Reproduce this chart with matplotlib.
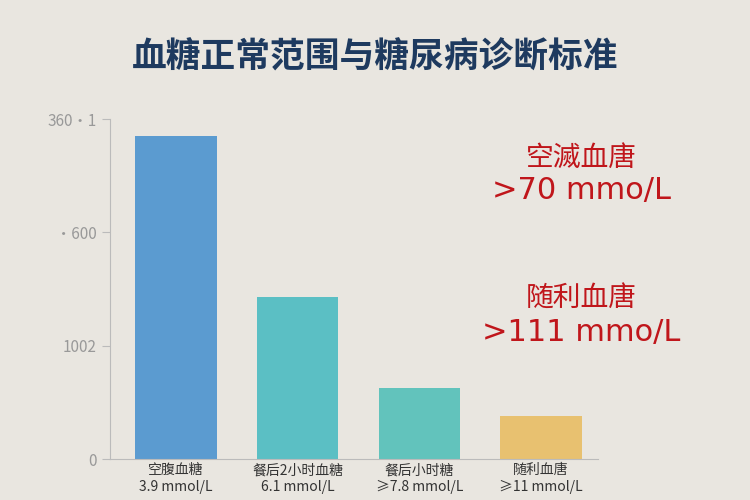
import matplotlib.pyplot as plt

plt.rcParams['font.family'] = ['Noto Sans CJK SC', 'DejaVu Sans']

categories = ['空腹血糖\n3.9 mmol/L', '餐后2小时血糖\n6.1 mmol/L', '餐后小时糖\n≥7.8 mmol/L', '随利血唐\n≥11 mmol/L']
values = [2850, 1430, 630, 380]
colors = ['#5b9bd0', '#5bbfc4', '#62c3bc', '#e8c170']
yticks = [0, 1000, 2000, 3000]
ytick_labels = ['0', '1002', '·600', '360·1']

fig = plt.figure(figsize=(7.5, 5), dpi=100, facecolor='#e9e6e0')
ax = fig.add_axes([0.1467, 0.082, 0.651, 0.68], facecolor='#e9e6e0')

ax.bar(range(len(values)), values, width=0.67, color=colors)
ax.set_xlim(-0.54, 3.47)
ax.set_ylim(0, 3000)
ax.set_yticks(yticks)
ax.set_yticklabels(ytick_labels, color='#999999', fontsize=11)
ax.set_xticks(range(len(categories)))
ax.set_xticklabels(categories, fontsize=10, color='#333333', linespacing=1.3)
ax.tick_params(axis='x', length=0, pad=3)
ax.tick_params(axis='y', color='#bbbbbb', length=6)
for s in ['top', 'right']:
    ax.spines[s].set_visible(False)
for s in ['left', 'bottom']:
    ax.spines[s].set_color('#bbbbbb')

fig.text(0.5, 0.885, '血糖正常范围与糖尿病诊断标准', ha='center', va='center',
         fontsize=25, fontweight='bold', color='#1e3a5f')
red = '#c0161b'
latin = ['DejaVu Sans', 'Noto Sans CJK SC']
fig.text(0.775, 0.685, '空滅血唐', ha='center', va='center', fontsize=20, color=red)
fig.text(0.775, 0.62, '>70 mmo/L', ha='center', va='center', fontsize=22, color=red, family=latin)
fig.text(0.775, 0.405, '随利血唐', ha='center', va='center', fontsize=20, color=red)
fig.text(0.775, 0.335, '>111 mmo/L', ha='center', va='center', fontsize=22, color=red, family=latin)

fig.savefig('out.png', facecolor=fig.get_facecolor())
